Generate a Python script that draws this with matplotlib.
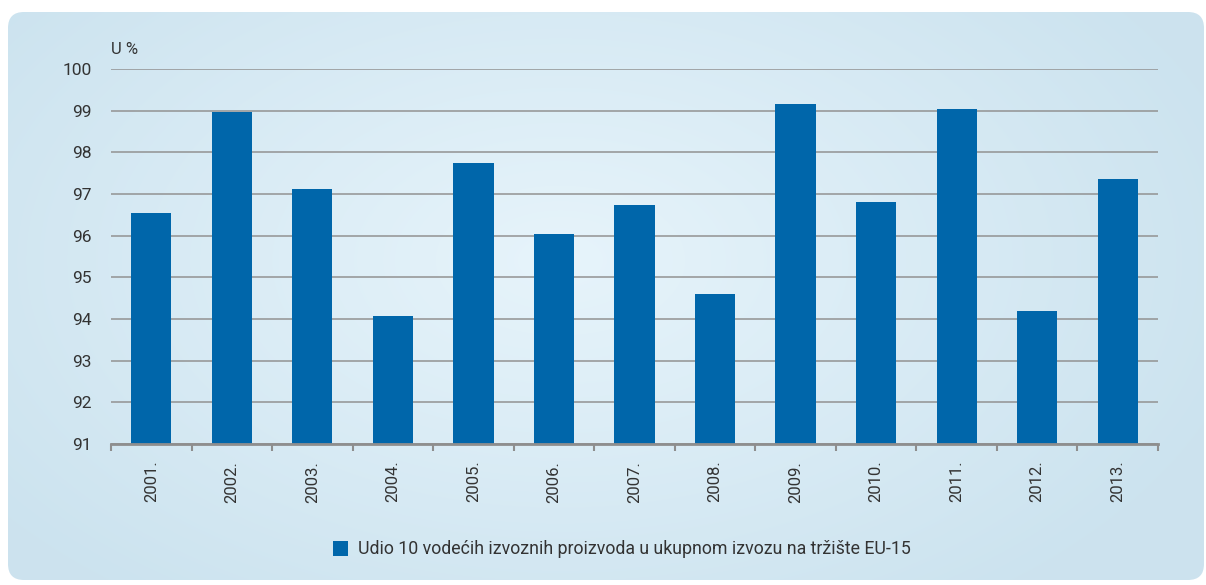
import matplotlib
matplotlib.use("Agg")
import matplotlib.pyplot as plt
import numpy as np
from matplotlib.patches import FancyBboxPatch

years = ["2001.", "2002.", "2003.", "2004.", "2005.", "2006.", "2007.",
         "2008.", "2009.", "2010.", "2011.", "2012.", "2013."]
values = [96.55, 98.97, 97.12, 94.07, 97.74, 96.04, 96.74,
          94.60, 99.16, 96.82, 99.04, 94.19, 97.36]
yticks = [91, 92, 93, 94, 95, 96, 97, 98, 99, 100]
legend_label = "Udio 10 vodećih izvoznih proizvoda u ukupnom izvozu na tržište EU-15"
unit_label = "U %"

plt.rcParams['font.family'] = ['Roboto', 'DejaVu Sans']
W, H = 1206, 585
fig = plt.figure(figsize=(W / 100, H / 100), dpi=100)
fig.patch.set_facecolor("white")

# background panel with gradient
bg = fig.add_axes([0, 0, 1, 1])
bg.set_xlim(0, W)
bg.set_ylim(H, 0)
bg.axis("off")
yy, xx = np.mgrid[0:H, 0:W]
cx, cy = 560, 260
d = np.sqrt(((xx - cx) / 700.0) ** 2 + ((yy - cy) / 420.0) ** 2)
d = np.clip(d, 0, 1)
c0 = np.array([0.905, 0.957, 0.984])
c1 = np.array([0.800, 0.890, 0.937])
img = c0[None, None, :] * (1 - d[..., None]) + c1[None, None, :] * d[..., None]
im = bg.imshow(img, extent=[0, W, H, 0], zorder=0)
panel = FancyBboxPatch((8, 12), W - 8 - 2, 568, boxstyle="round,pad=0,rounding_size=16",
                       transform=bg.transData, facecolor="none", edgecolor="none")
bg.add_patch(panel)
im.set_clip_path(panel)

ax = fig.add_axes([111 / W, 1 - 444 / H, (1158 - 111) / W, (444 - 69) / H])
ax.patch.set_alpha(0)
x = np.arange(len(years))
ax.bar(x, np.array(values) - 91, bottom=91, width=0.5, color="#0066aa", zorder=3)
ax.set_xlim(-0.5, len(years) - 0.5)
ax.set_ylim(91, 100)
ax.set_yticks(yticks)
ax.set_yticklabels([str(t) for t in yticks], fontsize=12.5, color="#333333")
ax.yaxis.grid(True, color="#929292", linewidth=1.1, zorder=1)
ax.set_axisbelow(True)
ax.tick_params(axis="y", length=0, pad=14)
ax.set_xticks(x)
ax.set_xticklabels(years, rotation=90, fontsize=12, color="#333333")
ax.tick_params(axis="x", which="major", length=0, pad=12)
ax.set_xticks(np.arange(-0.5, len(years)), minor=True)
ax.tick_params(axis="x", which="minor", length=5, width=1.5, color="#8e8e8e", direction="out")
for s in ["top", "right", "left"]:
    ax.spines[s].set_visible(False)
ax.spines["bottom"].set_color("#8e8e8e")
ax.spines["bottom"].set_linewidth(2)
ax.spines["bottom"].set_zorder(4)

fig.text(111 / W, 1 - 50 / H, unit_label, fontsize=12, color="#333333", ha="left", va="center")

# legend
fig.patches.append(plt.Rectangle((333 / W, 1 - 556 / H), 15 / W, 15 / H,
                                 transform=fig.transFigure, facecolor="#0066aa", edgecolor="none"))
fig.text(358 / W, 1 - 549 / H, legend_label, fontsize=12.8, color="#333333", ha="left", va="center")

fig.savefig("out.png", dpi=100)
